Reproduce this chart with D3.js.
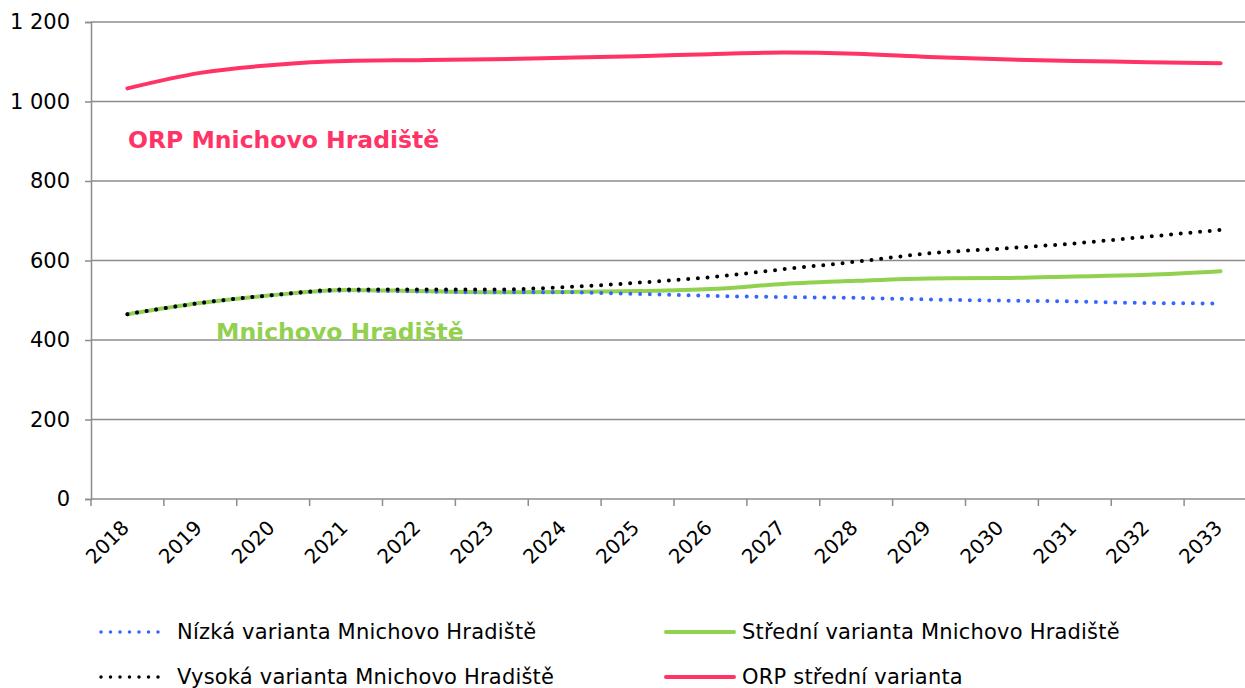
<!DOCTYPE html>
<html>
<head>
<meta charset="utf-8">
<script src="https://cdn.jsdelivr.net/npm/d3@7"></script>
<style>
    body { margin: 0; background: #fff; }
    svg { display: block; font-family: "DejaVu Sans", Verdana, sans-serif; }
</style>
</head>
<body>
<div id="chart"></div>
<script>
const years = ['2018', '2019', '2020', '2021', '2022', '2023', '2024', '2025',
    '2026', '2027', '2028', '2029', '2030', '2031', '2032', '2033'];
const nizka = [465, 493, 513, 524, 522, 520, 520, 516, 511, 508, 506, 502, 499, 497, 493, 492];
const stredni = [465, 493, 513, 526, 523, 520, 521, 523, 528, 541, 549, 555, 556, 560, 564, 573];
const vysoka = [465, 493, 513, 527, 527, 527, 533, 544, 558, 578, 597, 618, 630, 643, 660, 677];
const orp = [1033, 1072, 1092, 1102, 1104, 1106, 1110, 1114, 1119, 1123, 1120, 1112, 1106, 1102, 1099, 1096];
const yTicks = [0, 200, 400, 600, 800, 1000, 1200];

const series = [
    { name: 'Nízká varianta Mnichovo Hradiště', values: nizka, color: '#3366ff', dotted: true },
    { name: 'Střední varianta Mnichovo Hradiště', values: stredni, color: '#92d050', dotted: false },
    { name: 'Vysoká varianta Mnichovo Hradiště', values: vysoka, color: '#000000', dotted: true },
    { name: 'ORP střední varianta', values: orp, color: '#ff3366', dotted: false }
];
// draw order: solid lines first, dotted on top
const drawOrder = [3, 1, 0, 2];

const width = 1245, height = 688;
const plot = { left: 91, right: 1257, top: 22, bottom: 499 };
const gridColor = '#8c8c8c';
const fontSize = 20;

const svg = d3.select('#chart').append('svg')
    .attr('width', width)
    .attr('height', height);

const x = d3.scaleBand().domain(years).range([plot.left, plot.right]);
const y = d3.scaleLinear().domain([0, 1200]).range([plot.bottom, plot.top]);
const cx = d => x(d) + x.bandwidth() / 2;

// horizontal grid
svg.append('g')
    .selectAll('line')
    .data(yTicks.filter(v => v > 0))
    .join('line')
    .attr('x1', plot.left).attr('x2', width)
    .attr('y1', d => y(d)).attr('y2', d => y(d))
    .attr('stroke', gridColor).attr('stroke-width', 1.5);

// y axis
const fmt = v => d3.format(',')(v).replace(/,/g, ' ');
const yAxis = svg.append('g')
    .attr('transform', `translate(${plot.left},0)`)
    .call(d3.axisLeft(y).tickValues(yTicks).tickSize(6).tickPadding(15).tickFormat(fmt));
yAxis.attr('font-size', null).attr('font-family', null);
yAxis.select('.domain').attr('stroke', gridColor).attr('stroke-width', 1.5);
yAxis.selectAll('.tick line').attr('stroke', gridColor).attr('stroke-width', 1.5);
yAxis.selectAll('.tick text')
    .style('font-size', '21px').attr('fill', '#000');

// x axis
const xAxis = svg.append('g')
    .attr('transform', `translate(0,${plot.bottom})`);
xAxis.append('line')
    .attr('x1', plot.left).attr('x2', width)
    .attr('stroke', gridColor).attr('stroke-width', 1.5);
xAxis.selectAll('line.tick')
    .data(years)
    .join('line')
    .attr('class', 'tick')
    .attr('x1', d => x(d)).attr('x2', d => x(d))
    .attr('y1', 0).attr('y2', 7)
    .attr('stroke', gridColor).attr('stroke-width', 1.5);
xAxis.selectAll('text')
    .data(years)
    .join('text')
    .attr('transform', d => `translate(${cx(d) - 7},${20}) rotate(-45)`)
    .attr('text-anchor', 'end')
    .attr('dy', '0.7em')
    .style('font-size', fontSize + 'px')
    .text(d => d);

// lines
const line = d3.line()
    .x((d, i) => cx(years[i]))
    .y(d => y(d))
    .curve(d3.curveMonotoneX);

svg.append('g')
    .selectAll('path')
    .data(drawOrder.map(i => series[i]))
    .join('path')
    .attr('d', d => line(d.values))
    .attr('fill', 'none')
    .attr('stroke', d => d.color)
    .attr('stroke-width', 4)
    .attr('stroke-linecap', 'round')
    .attr('stroke-dasharray', d => d.dotted ? '0 9.7' : null);

// inline labels
svg.append('text')
    .attr('x', 128).attr('y', 148)
    .style('font-size', '23.5px').attr('font-weight', 'bold')
    .attr('fill', '#ff3366')
    .text('ORP Mnichovo Hradiště');
svg.append('text')
    .attr('x', 216).attr('y', 340)
    .style('font-size', '23.5px').attr('font-weight', 'bold')
    .attr('fill', '#92d050')
    .text('Mnichovo Hradiště');

// legend
const legendPos = [
    { x: 101, y: 632 }, { x: 666, y: 632 },
    { x: 101, y: 677 }, { x: 666, y: 677 }
];
const legend = svg.append('g')
    .selectAll('g')
    .data(series)
    .join('g')
    .attr('transform', (d, i) => `translate(${legendPos[i].x},${legendPos[i].y})`);
legend.append('line')
    .attr('x1', 0).attr('x2', d => d.dotted ? 60 : 68)
    .attr('stroke', d => d.color)
    .attr('stroke-width', d => d.dotted ? 3.5 : 4)
    .attr('stroke-linecap', 'round')
    .attr('stroke-dasharray', d => d.dotted ? '0 9.5' : null);
legend.append('text')
    .attr('x', 76)
    .attr('dy', '0.35em')
    .style('font-size', '21px')
    .style('letter-spacing', '0.2px')
    .text(d => d.name);
</script>
</body>
</html>
